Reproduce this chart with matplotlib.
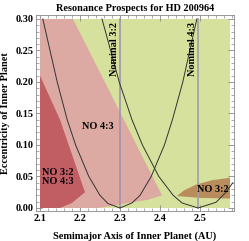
import matplotlib
matplotlib.use("Agg")
import matplotlib.pyplot as plt
from matplotlib.ticker import MultipleLocator

# ---------------- DATA ----------------
a_range = [2.1, 2.575]
e_range = [0.0, 0.30]

nominal_32 = 2.30
nominal_43 = 2.495

# regions (a, e)
dark_a = [2.1, 2.15, 2.18, 2.2125, 2.15, 2.1]
dark_e = [0.0, 0.0, 0.008, 0.025, 0.14, 0.21]

pink_a = [2.1, 2.1, 2.1825, 2.405, 2.37, 2.33, 2.29, 2.245]
pink_e = [0.0, 0.30, 0.30, 0.02, 0.013, 0.009, 0.004, 0.0]

brown_a = [2.4425, 2.46, 2.49, 2.53, 2.575, 2.575, 2.5, 2.4425]
brown_e = [0.019, 0.028, 0.037, 0.044, 0.048, 0.015, 0.016, 0.019]

# resonance boundary curves
c32_a = [2.107, 2.143, 2.168, 2.189, 2.222, 2.25, 2.27, 2.30,
         2.33, 2.35, 2.378, 2.411, 2.431, 2.457, 2.492]
c32_e = [0.30, 0.20, 0.14, 0.10, 0.05, 0.02, 0.007, 0.0,
         0.008, 0.02, 0.05, 0.10, 0.14, 0.20, 0.30]

c43_a = [2.255, 2.298, 2.33, 2.356, 2.397, 2.433, 2.455, 2.495,
         2.54, 2.565, 2.582]
c43_e = [0.30, 0.20, 0.14, 0.10, 0.05, 0.02, 0.008, 0.0,
         0.009, 0.025, 0.04]

GREEN = "#d6e19d"
PINK = "#dcaaa2"
DARK = "#c15e64"
BROWN = "#b88c5c"

# ---------------- PLOT ----------------
plt.rcParams["font.family"] = ["Liberation Serif", "DejaVu Serif"]
plt.rcParams["font.weight"] = "bold"
FS = 7.4

fig = plt.figure(figsize=(2.49, 2.41), dpi=100)
ax = fig.add_axes([0.1446, 0.1245, 0.7952, 0.8133])

ax.fill([a_range[0], a_range[1], a_range[1], a_range[0]],
        [e_range[0], e_range[0], e_range[1], e_range[1]],
        color=GREEN, lw=0, zorder=1)
ax.fill(pink_a, pink_e, color=PINK, lw=0, zorder=2)
ax.fill(dark_a, dark_e, color=DARK, lw=0, zorder=3)
ax.fill(brown_a, brown_e, color=BROWN, lw=0, zorder=3)

ax.plot([nominal_32, nominal_32], e_range, color="#a294ac", lw=1.2, zorder=4)
ax.plot([nominal_43, nominal_43], e_range, color="#a0a0a8", lw=1.2, zorder=4)

ax.plot(c32_a, c32_e, color="#333333", lw=0.7, zorder=5)
ax.plot(c43_a, c43_e, color="#333333", lw=0.7, zorder=5)

ax.text(nominal_32 - 0.003, 0.295, "Nominal 3:2", rotation=90, ha="right", va="top",
        fontsize=FS, fontweight="bold", zorder=6)
ax.text(nominal_43 - 0.003, 0.295, "Nominal 4:3", rotation=90, ha="right", va="top",
        fontsize=FS, fontweight="bold", zorder=6)
ax.text(2.245, 0.129, "NO 4:3", ha="center", va="center", fontsize=FS,
        fontweight="bold", zorder=6)
ax.text(2.144, 0.049, "NO 3:2\nNO 4:3", ha="center", va="center", fontsize=FS,
        fontweight="bold", linespacing=0.95, zorder=6)
ax.text(2.533, 0.029, "NO 3:2", ha="center", va="center", fontsize=FS,
        fontweight="bold", zorder=6)

ax.set_xlim(2.09, 2.585)
ax.set_ylim(-0.0048, 0.3063)
ax.xaxis.set_major_locator(MultipleLocator(0.1))
ax.xaxis.set_minor_locator(MultipleLocator(0.02))
ax.yaxis.set_major_locator(MultipleLocator(0.05))
ax.yaxis.set_minor_locator(MultipleLocator(0.01))
ax.xaxis.set_major_formatter(plt.FuncFormatter(lambda v, p: f"{v:.1f}"))
ax.yaxis.set_major_formatter(plt.FuncFormatter(lambda v, p: f"{v:.2f}"))
ax.tick_params(which="both", direction="in", top=True, right=True,
               color="#888888", labelsize=FS, pad=2)
ax.tick_params(which="major", length=4, width=0.6)
ax.tick_params(which="minor", length=2, width=0.5)
for s in ax.spines.values():
    s.set_color("#888888")
    s.set_linewidth(0.6)
for lab in ax.get_xticklabels() + ax.get_yticklabels():
    lab.set_fontweight("bold")

ax.set_title("Resonance Prospects for HD 200964", fontsize=FS, fontweight="bold", pad=3)
ax.set_xlabel("Semimajor Axis of Inner Planet (AU)", fontsize=FS, fontweight="bold", labelpad=6)
ax.set_ylabel("Eccentricity of Inner Planet", fontsize=FS, fontweight="bold", labelpad=4)

fig.savefig("out.png", dpi=100)
